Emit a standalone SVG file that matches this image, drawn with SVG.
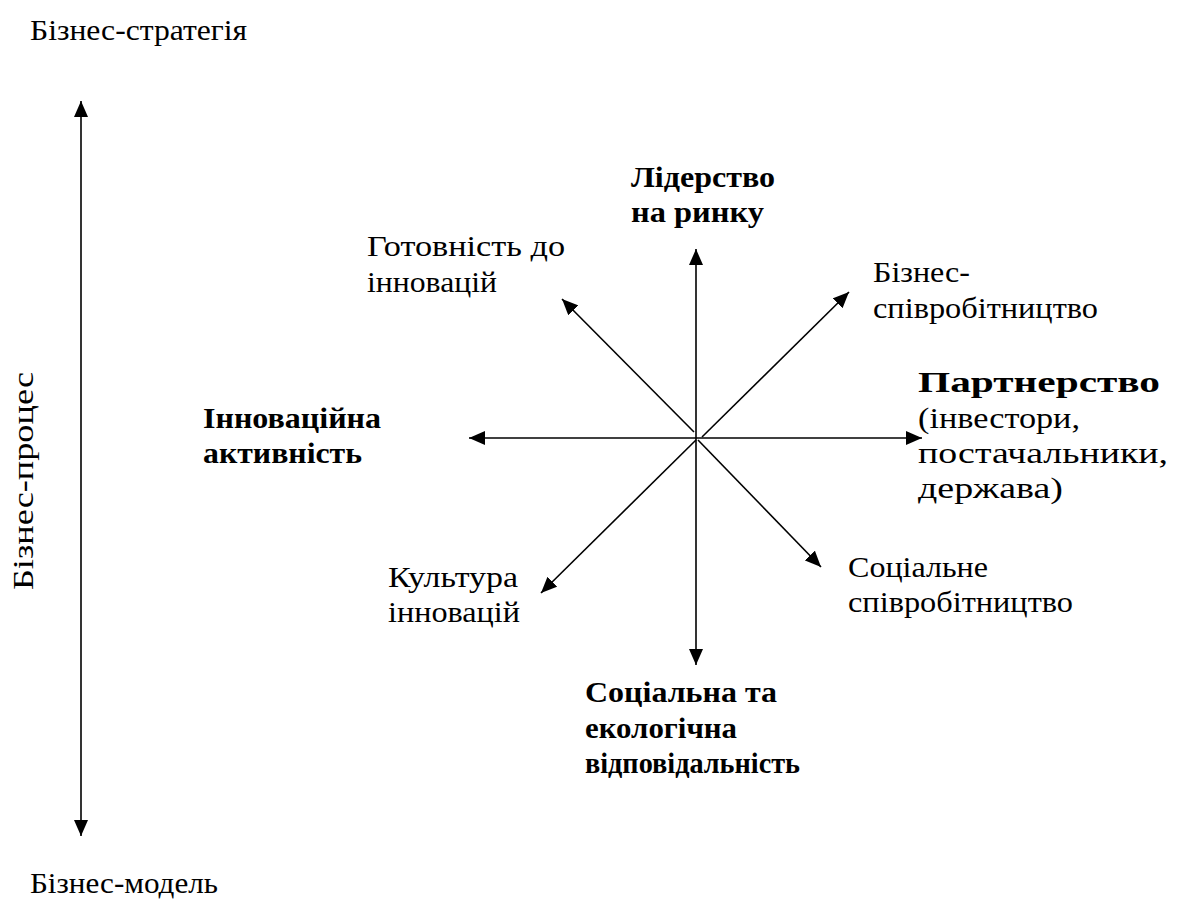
<svg xmlns="http://www.w3.org/2000/svg" width="1186" height="900" viewBox="0 0 1186 900">
<style>
text{font-family:"Liberation Serif","Times New Roman",serif;font-size:30px;fill:#000}
.b{font-weight:bold}
.ln{stroke:#000;stroke-width:1.6;fill:none}
</style>
<defs>
<marker id="a" viewBox="0 0 16 14" refX="16" refY="7" markerWidth="16" markerHeight="14" markerUnits="userSpaceOnUse" orient="auto">
<path d="M0,0 L16,7 L0,14 Z" fill="#000"/>
</marker>
</defs>
<rect width="1186" height="900" fill="#fff"/>
<g id="axis-labels">
<text x="30" y="40" textLength="217" lengthAdjust="spacingAndGlyphs">Бізнес-стратегія</text>
<text x="30" y="893" textLength="188" lengthAdjust="spacingAndGlyphs">Бізнес-модель</text>
<text transform="translate(33,590) rotate(-90)" textLength="218" lengthAdjust="spacingAndGlyphs">Бізнес-процес</text>
</g>
<g id="connectors">
<line class="ln" x1="81" y1="440" x2="81" y2="101" marker-end="url(#a)"/>
<line class="ln" x1="81" y1="440" x2="81" y2="836" marker-end="url(#a)"/>
<line class="ln" x1="696" y1="438" x2="696" y2="249" marker-end="url(#a)"/>
<line class="ln" x1="696" y1="438" x2="696" y2="665" marker-end="url(#a)"/>
<line class="ln" x1="696" y1="438" x2="469" y2="438" marker-end="url(#a)"/>
<line class="ln" x1="696" y1="438" x2="922" y2="438" marker-end="url(#a)"/>
<line class="ln" x1="694" y1="432" x2="562" y2="299" marker-end="url(#a)"/>
<line class="ln" x1="702" y1="437" x2="849" y2="292" marker-end="url(#a)"/>
<line class="ln" x1="696" y1="440" x2="541" y2="593" marker-end="url(#a)"/>
<line class="ln" x1="698" y1="440" x2="821" y2="567" marker-end="url(#a)"/>
</g>
<g id="n-leader"><text class="b" x="631" y="187" textLength="144" lengthAdjust="spacingAndGlyphs">Лідерство</text><text class="b" x="631" y="222" textLength="133" lengthAdjust="spacingAndGlyphs">на ринку</text></g>
<g id="n-ready"><text x="367" y="256" textLength="198" lengthAdjust="spacingAndGlyphs">Готовність до</text><text x="367" y="292" textLength="130" lengthAdjust="spacingAndGlyphs">інновацій</text></g>
<g id="n-bizcoop"><text x="873" y="282" textLength="97" lengthAdjust="spacingAndGlyphs">Бізнес-</text><text x="873" y="318" textLength="225" lengthAdjust="spacingAndGlyphs">співробітництво</text></g>
<g id="n-innov"><text class="b" x="203" y="428" textLength="178" lengthAdjust="spacingAndGlyphs">Інноваційна</text><text class="b" x="203" y="463" textLength="159" lengthAdjust="spacingAndGlyphs">активність</text></g>
<g id="n-partner"><text class="b" x="918" y="392" textLength="242" lengthAdjust="spacingAndGlyphs">Партнерство</text><text x="918" y="428" textLength="162" lengthAdjust="spacingAndGlyphs">(інвестори,</text><text x="918" y="463" textLength="250" lengthAdjust="spacingAndGlyphs">постачальники,</text><text x="918" y="498" textLength="145" lengthAdjust="spacingAndGlyphs">держава)</text></g>
<g id="n-culture"><text x="388" y="587" textLength="130" lengthAdjust="spacingAndGlyphs">Культура</text><text x="388" y="622" textLength="132" lengthAdjust="spacingAndGlyphs">інновацій</text></g>
<g id="n-soccoop"><text x="848" y="577" textLength="140" lengthAdjust="spacingAndGlyphs">Соціальне</text><text x="848" y="612" textLength="225" lengthAdjust="spacingAndGlyphs">співробітництво</text></g>
<g id="n-social"><text class="b" x="585" y="702" textLength="192" lengthAdjust="spacingAndGlyphs">Соціальна та</text><text class="b" x="585" y="738" textLength="152" lengthAdjust="spacingAndGlyphs">екологічна</text><text class="b" x="585" y="773" textLength="215" lengthAdjust="spacingAndGlyphs">відповідальність</text></g>
</svg>
